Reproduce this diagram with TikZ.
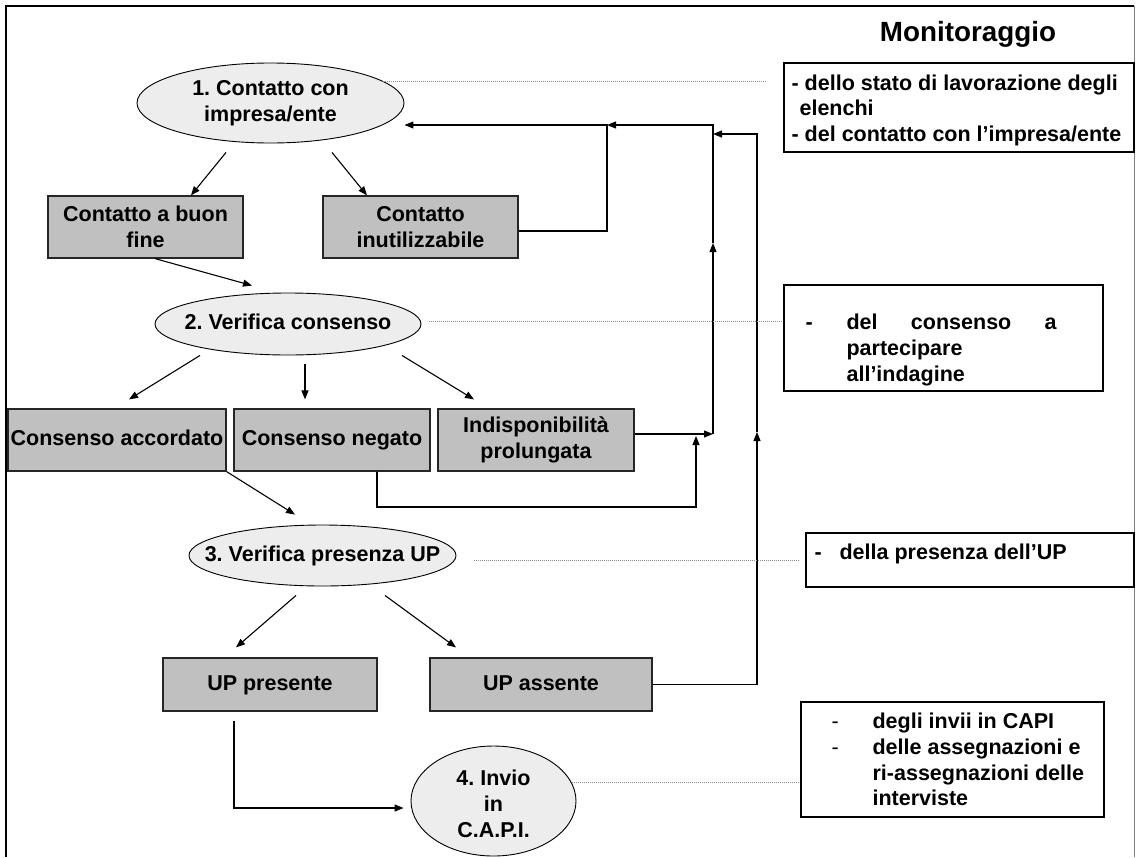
\documentclass[tikz,border=0pt]{standalone}
\usepackage{fontspec}
\setmainfont{Liberation Sans}
\usetikzlibrary{arrows.meta,shapes.geometric,calc}
\definecolor{boxgray}{HTML}{C0C0C0}
\definecolor{ellgray}{HTML}{EDEDED}
\definecolor{dotgray}{HTML}{8C8C8C}

\begin{document}
\frenchspacing
\begin{tikzpicture}[x=1pt,y=-1pt,
  every node/.style={font=\fontsize{21.5}{25.8}\selectfont\bfseries},
  stepbox/.style={draw=black!85, line width=1.2pt, fill=boxgray, inner sep=0pt, align=center},
  oneline/.style={text height=15.6pt, text depth=4.6pt},
  stage/.style={ellipse, draw=black, line width=0.9pt, fill=ellgray, inner sep=0pt},
  stagetext/.style={align=center, inner sep=0pt},
  monbox/.style={draw=black, line width=1.2pt, fill=white, inner sep=0pt},
  montext/.style={anchor=base west, inner sep=0pt},
  arr/.style={line width=1.1pt, -{Triangle[length=9pt,width=7pt]}},
  dotline/.style={dotgray, line width=1pt, dash pattern=on 1pt off 1pt},
]
\fill[white] (0,0) rectangle (1137,857);
\useasboundingbox (0,0) rectangle (1137,857);

% outer frame
\draw[line width=2pt] (6,857) -- (6,6) -- (1134,6);
\draw[gray, line width=1pt] (1134,6) -- (1134,857);

% process stages and outcomes
\node[stage, minimum width=267pt, minimum height=80pt] (e1) at (270.5,103) {};
\node[stagetext] (e1t) at (e1) {1. Contatto con\\impresa/ente};
\node[stepbox, minimum width=195pt, minimum height=62pt] (b1) at (145.5,227) {Contatto a buon\\fine};
\node[stepbox, minimum width=195pt, minimum height=62pt] (b2) at (420.5,227) {Contatto\\inutilizzabile};

\node[stage, minimum width=266pt, minimum height=62pt] (e2) at (288,324) {};
\node[stagetext, oneline] (e2t) at (e2) {2. Verifica consenso};
\node[stepbox, oneline, minimum width=218pt, minimum height=62pt] (b3) at (117,440) {Consenso accordato};
\node[stepbox, oneline, minimum width=196pt, minimum height=62pt] (b4) at (332,440) {Consenso negato};
\node[stepbox, minimum width=196pt, minimum height=62pt] (b5) at (536,440) {Indisponibilità\\prolungata};

\node[stage, minimum width=267pt, minimum height=61pt] (e3) at (322.5,555.5) {};
\node[stagetext, oneline] (e3t) at (e3) {3. Verifica presenza UP};
\node[stepbox, oneline, minimum width=214pt, minimum height=53pt] (b6) at (270,684.5) {UP presente};
\node[stepbox, oneline, minimum width=222pt, minimum height=53pt] (b7) at (541,684.5) {UP assente};

\node[stage, minimum width=165pt, minimum height=110pt] (e4) at (493.5,801) {};
\node[stagetext] (e4t) at ($(e4)+(0,3)$) {4. Invio\\in\\C.A.P.I.};

% monitoring column
\node[font=\fontsize{27.8}{30}\selectfont\bfseries] (title) at (968,34) {Monitoraggio};

\node[monbox, minimum width=350pt, minimum height=89pt] (m1) at (959,107.5) {};
\node[montext] (m1t) at ($(m1.north west)+(8,27.7)$)
  {\begin{tabular}[t]{@{}l@{}}- dello stato di lavorazione degli\\\hspace*{8pt}elenchi\\- del contatto con l’impresa/ente\end{tabular}};

\node[monbox, minimum width=319pt, minimum height=106pt] (m2) at (943.5,338) {};
\node[montext] (m2t) at ($(m2.north west)+(22,45.5)$)
  {\begin{tabular}[t]{@{}l@{}l@{}}\makebox[41pt][l]{-}&\makebox[210pt][s]{del\hfill consenso\hfill a}\\&partecipare\\&all’indagine\end{tabular}};

\node[monbox, minimum width=328pt, minimum height=54pt] (m3) at (970,560) {};
\node[montext] (m3t) at ($(m3.north west)+(9,27)$)
  {\makebox[25pt][l]{-}della presenza dell’UP};

\node[monbox, minimum width=303pt, minimum height=115pt] (m4) at (952.5,759.5) {};
\node[montext] (m4t) at ($(m4.north west)+(31,27)$)
  {\begin{tabular}[t]{@{}l@{}l@{}}\makebox[41pt][l]{\mdseries -}&degli invii in CAPI\\\makebox[41pt][l]{\mdseries -}&delle assegnazioni e\\&ri-assegnazioni delle\\&interviste\end{tabular}};

% junction points of the return lines
\coordinate (j1) at (607,125);
\coordinate (j3) at (713,125);
\coordinate (j2) at (713,434);
\coordinate (up1) at (713,243);
\coordinate (j5) at (757,134);
\coordinate (j6) at (713,134);
\coordinate (up2) at (757,432);
\coordinate (n1) at (696,507);
\coordinate (k) at (696,436);

% flow arrows
\draw[arr] ($(e1.south)+(-44.5,9)$) -- ($(b1.north)+(45.5,0)$);
\draw[arr] ($(e1.south)+(61.5,9)$) -- ($(b2.north)+(-53.5,0)$);
\draw[arr] ($(b1.south)+(9.5,0)$) -- ($(e2.north)+(-36,-7)$);
\draw[arr] ($(e2.south)+(-88,0)$) -- ($(b3.north)+(12,-9)$);
\draw[arr] ($(e2.south)+(17,9)$) -- ($(b4.north)+(-27,-9)$);
\draw[arr] ($(e2.south)+(114,0)$) -- ($(b5.north)+(-62,-9)$);
\draw[arr] (b3.south east) -- ($(e3.north)+(-27.5,-10)$);
\draw[arr] ($(e3.south)+(-26.5,9)$) -- ($(b6.north)+(-34,-10)$);
\draw[arr] ($(e3.south)+(62.5,9)$) -- ($(b7.north)+(-85,-10)$);
\draw[arr] ($(b6.south)+(-36,9)$) |- ($(e4.west)+(-7,7)$);

% return lines towards the first contact
\draw[arr] ($(b2.east)+(0,4)$) -| (j1) -- ($(e1.east)+(0,22)$);
\draw[arr] ($(b5.east)+(0,-6)$) -- (j2);
\draw[arr] ($(b4.south)+(45,0)$) |- (n1) -- (k);
\draw[arr] (j2) -- (up1);
\draw[arr] (up1) -- (j3) -- (j1);
\draw[arr] (b7.east) -| (up2);
\draw[arr] (up2) -- (j5) -- (j6);

% dotted leaders to the monitoring notes
\draw[dotline] (e1.11) -- ++(383,0);
\draw[dotline] ($(e2.east)+(8,-3)$) coordinate (d2) -- (d2 -| m2.west);
\draw[dotline] ($(e3.east)+(18,4.5)$) coordinate (d3) -- ($(d3 -| m3.west)+(-5,0)$);
\draw[dotline] ($(e4.east)+(-4,-19)$) coordinate (d4) -- (d4 -| m4.west);
\end{tikzpicture}
\end{document}
